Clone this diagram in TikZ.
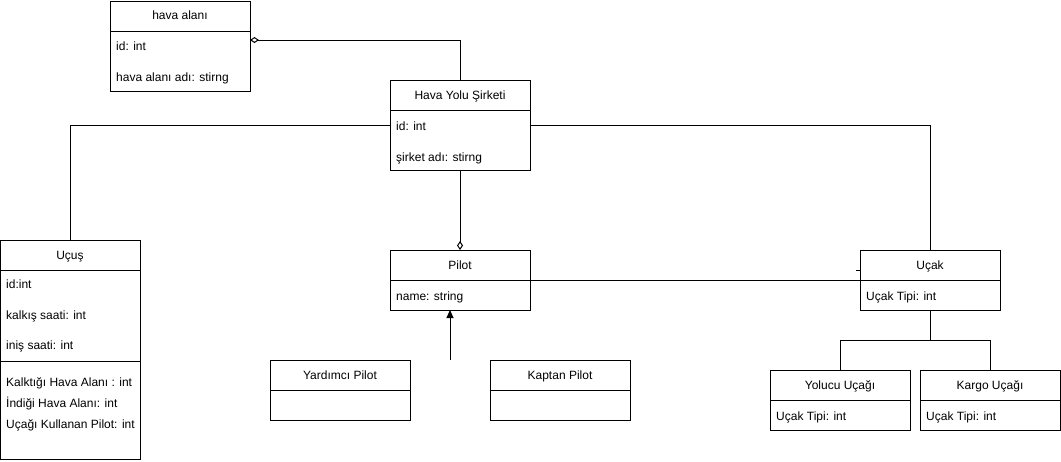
\documentclass[tikz,border=0pt]{standalone}
\usepackage{fontspec}
\setmainfont{Liberation Sans}
\usetikzlibrary{arrows.meta}
\tikzset{aggtip/.tip={Diamond[open,length=9pt,width=6pt]},
         gentip/.tip={Triangle[length=8pt,width=7pt]}}
\begin{document}
\begin{tikzpicture}[x=1pt,y=-1pt,
  box/.style={draw, line width=1pt, rectangle, inner sep=0pt, outer sep=0pt, anchor=north west, minimum width=140pt},
  ttl/.style={font=\fontsize{12}{14}\selectfont, inner sep=0pt, anchor=base},
  attr/.style={font=\fontsize{12}{14}\selectfont, inner sep=0pt, anchor=base west},
  conn/.style={line width=1pt},
  sepline/.style={line width=1pt},
]
\useasboundingbox (0,0) rectangle (1061,461);

% ---- boxes ----
\node[box, minimum height=90pt] (ha) at (110,1) {};
\node[box, minimum height=90pt] (hy) at (390,80) {};
\node[box, minimum height=219pt] (uc) at (0,240) {};
\node[box, minimum height=60pt] (pi) at (390,250) {};
\node[box, minimum height=60pt] (yp) at (270,360) {};
\node[box, minimum height=60pt] (kp) at (490,360) {};
\node[box, minimum height=60pt] (ua) at (860,250) {};
\node[box, minimum height=60pt] (yu) at (770,370) {};
\node[box, minimum height=60pt] (ku) at (920,370) {};

% ---- header separators ----
\foreach \b in {ha,hy,uc,pi,yp,kp,ua,yu,ku}
  \draw[sepline] ([yshift=-30pt]\b.north west) -- ([yshift=-30pt]\b.north east);
\draw[sepline] ([yshift=-121pt]uc.north west) -- ([yshift=-121pt]uc.north east);

% ---- texts ----
\node[ttl] (haT) at (180,19.5) {hava alanı};
\node[attr] (ha1) at (116,50) {id: int};
\node[attr] (ha2) at (116,81) {hava alanı adı: stirng};

\node[ttl] (hyT) at (460,99) {Hava Yolu Şirketi};
\node[attr] (hy1) at (396,130) {id: int};
\node[attr] (hy2) at (396,161) {şirket adı: stirng};

\node[ttl] (ucT) at (70,259) {Uçuş};
\node[attr] (uc1) at (6,288) {id:int};
\node[attr] (uc2) at (6,319) {kalkış saati: int};
\node[attr] (uc3) at (6,349) {iniş saati: int};
\node[attr] (uc4) at (6,386) {Kalktığı Hava Alanı : int};
\node[attr] (uc5) at (6,407) {İndiği Hava Alanı: int};
\node[attr] (uc6) at (6,428) {Uçağı Kullanan Pilot: int};

\node[ttl] (piT) at (460,269) {Pilot};
\node[attr] (pi1) at (396,300) {name: string};

\node[ttl] (ypT) at (340,379) {Yardımcı Pilot};
\node[ttl] (kpT) at (560,379) {Kaptan Pilot};

\node[ttl] (uaT) at (930,269) {Uçak};
\node[attr] (ua1) at (866,300) {Uçak Tipi: int};

\node[ttl] (yuT) at (840,389) {Yolucu Uçağı};
\node[attr] (yu1) at (776,420) {Uçak Tipi: int};
\node[ttl] (kuT) at (990,389) {Kargo Uçağı};
\node[attr] (ku1) at (926,420) {Uçak Tipi: int};

% ---- connectors ----
\draw[conn, aggtip-] ([yshift=-39pt]ha.north east) -| (hy.north);
\draw[conn] ([yshift=-45pt]hy.north west) -| (uc.north);
\draw[conn] ([yshift=-45pt]hy.north east) -| (ua.north);
\draw[conn, -aggtip] (hy.south) -- (pi.north);
\draw[conn] ([yshift=-30pt]pi.north east) -- ([yshift=-30pt]ua.north west);
\draw[conn] ([xshift=-4pt,yshift=-20pt]ua.north west) -- ([yshift=-20pt]ua.north west);
\coordinate (gen) at (450,360);
\draw[conn, -gentip] (gen) -- (pi.south -| gen);
\coordinate (split) at (930,340);
\draw[conn] (ua.south) -- (split);
\draw[conn] (split) -| (yu.north);
\draw[conn] (split) -| (ku.north);
\end{tikzpicture}
\end{document}
